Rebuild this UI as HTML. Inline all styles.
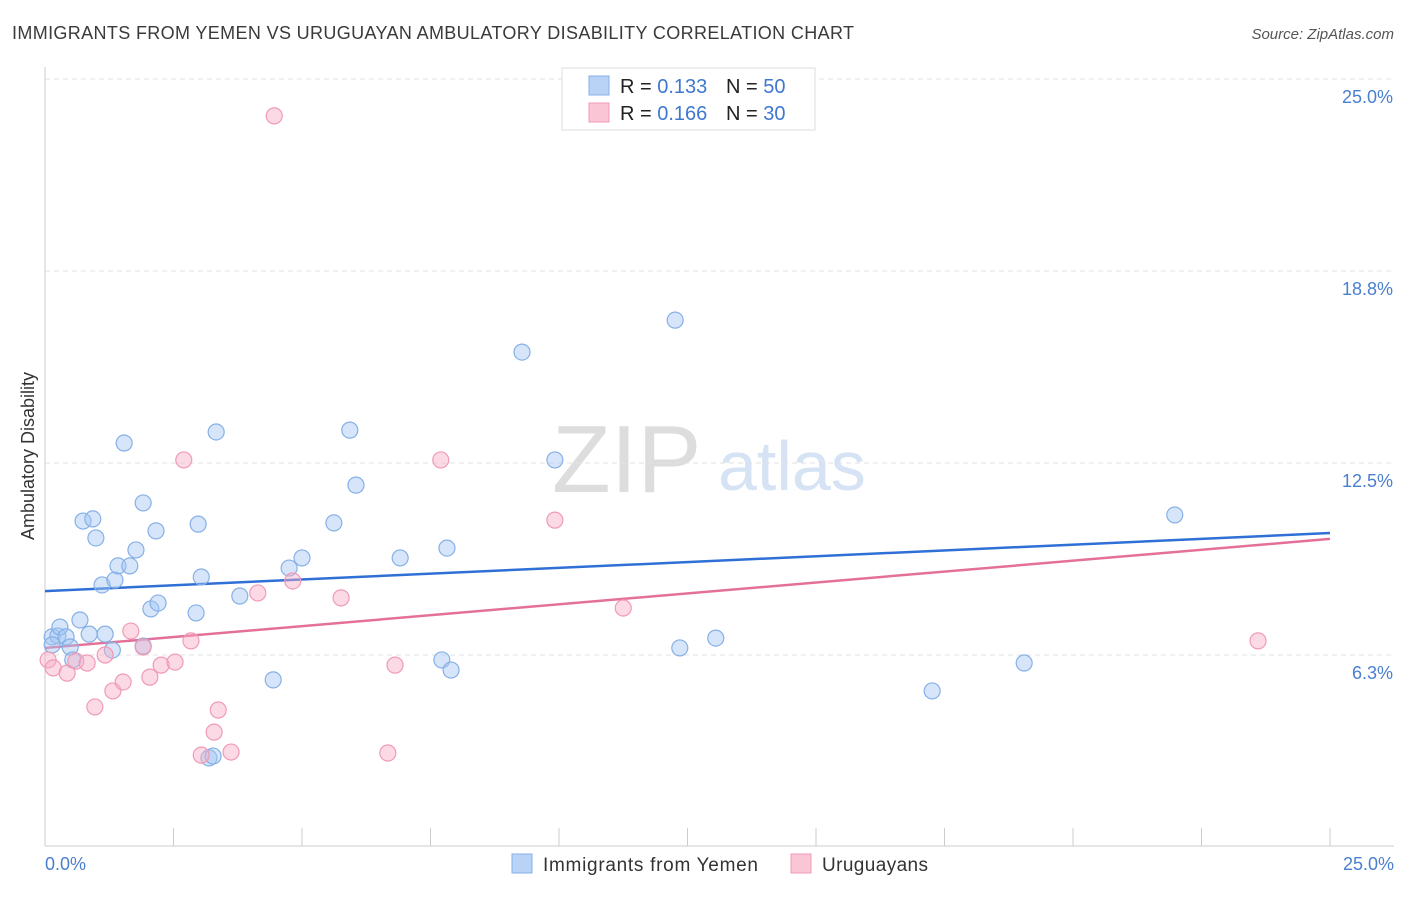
<!DOCTYPE html>
<html><head><meta charset="utf-8"><style>
body{margin:0;background:#fff;font-family:"Liberation Sans",sans-serif;}
svg text{font-family:"Liberation Sans",sans-serif;}
</style></head><body>
<svg id="chart" width="1406" height="892" xmlns="http://www.w3.org/2000/svg">
<text x="12" y="39" font-size="18" fill="#3a3a3a" textLength="842" lengthAdjust="spacing">IMMIGRANTS FROM YEMEN VS URUGUAYAN AMBULATORY DISABILITY CORRELATION CHART</text>
<text x="1394" y="39" font-size="15" fill="#555" text-anchor="end" font-style="italic">Source: ZipAtlas.com</text>
<g>
<text x="552" y="492" font-size="96" fill="#ddd" font-family="Liberation Serif,serif">ZIP</text>
<text x="718" y="490" font-size="70" fill="#d5e3f5">atlas</text>
</g>
<g id="grid"></g>
<g id="axes"></g>
<g id="lines"></g>
<g id="points"></g>
<text transform="translate(34,456) rotate(-90)" font-size="18" fill="#333" text-anchor="middle">Ambulatory Disability</text>
<text x="45" y="870" font-size="18" fill="#4a7fd0">0.0%</text>
<text x="1394" y="870" font-size="18" fill="#4a7fd0" text-anchor="end">25.0%</text>
<g>
<rect x="562" y="68" width="253" height="62" fill="#fff" stroke="#ddd"/>
<rect x="589" y="76" width="20" height="19" fill="#b8d3f5" stroke="#86b0e6"/>
<rect x="589" y="103" width="20" height="19" fill="#fac6d6" stroke="#f09ab6"/>
<text x="620" y="93" font-size="20" fill="#222">R = <tspan fill="#3f78d0">0.133</tspan></text>
<text x="726" y="93" font-size="20" fill="#222">N = <tspan fill="#3f78d0">50</tspan></text>
<text x="620" y="120" font-size="20" fill="#222">R = <tspan fill="#3f78d0">0.166</tspan></text>
<text x="726" y="120" font-size="20" fill="#222">N = <tspan fill="#3f78d0">30</tspan></text>
</g>
<g>
<rect x="512" y="854" width="20" height="19" fill="#b8d3f5" stroke="#86b0e6"/>
<text x="543" y="871" font-size="19" fill="#333" textLength="215" lengthAdjust="spacing">Immigrants from Yemen</text>
<rect x="791" y="854" width="20" height="19" fill="#fac6d6" stroke="#f09ab6"/>
<text x="822" y="871" font-size="19" fill="#333" textLength="106" lengthAdjust="spacing">Uruguayans</text>
</g>
</svg>
<script>
const yTicks=[6.25,12.5,18.75,25];
const yTickLabels=["6.3%","12.5%","18.8%","25.0%"];
const xTicks=[0,2.5,5,7.5,10,12.5,15,17.5,20,22.5,25];
const yemenX=[0.14,0.25,0.29,0.41,0.49,0.54,0.68,0.74,0.86,0.93,0.99,1.11,1.17,1.31,1.36,1.42,1.54,1.65,1.77,1.91,2.06,2.16,2.2,1.91,2.94,2.98,3.04,3.19,3.27,3.33,3.79,4.44,4.75,5.0,5.62,5.93,6.05,6.91,7.72,7.82,7.9,9.28,9.92,12.26,12.35,13.05,17.26,19.05,21.98,0.14];
const yemenY=[6.84,6.87,7.16,6.84,6.51,6.09,7.39,10.61,6.93,10.68,10.06,8.53,6.93,6.41,8.69,9.15,13.15,9.15,9.67,11.2,7.75,10.29,7.94,6.54,7.62,10.51,8.79,2.9,2.96,13.51,8.17,5.44,9.08,9.41,10.55,13.57,11.78,9.41,6.09,9.73,5.76,16.11,12.6,17.15,6.48,6.8,5.08,5.99,10.81,6.58];
const uruX=[0.06,0.16,0.43,0.6,0.82,0.97,1.17,1.32,1.52,1.67,1.91,2.04,2.26,2.53,2.7,2.84,3.04,3.29,3.37,3.62,4.14,4.46,4.82,5.76,6.81,6.67,7.7,9.92,11.25,23.6];
const uruY=[6.09,5.83,5.66,6.05,5.99,4.56,6.25,5.08,5.37,7.03,6.51,5.53,5.92,6.02,12.6,6.71,2.99,3.74,4.46,3.09,8.27,23.8,8.66,8.11,5.92,3.06,12.6,10.64,7.78,6.71];
const yemenTrend=[8.33,10.22];
const uruTrend=[6.48,10.03];
const NS="http://www.w3.org/2000/svg";
const X=v=>45+v*(1285/25);
const Y=v=>847-v*30.72;
function mk(t,a,p){const e=document.createElementNS(NS,t);for(const k in a)e.setAttribute(k,a[k]);document.getElementById(p).appendChild(e);return e;}
yTicks.forEach((t,i)=>{
 const l=mk('line',{x1:45,x2:1394,y1:Y(t),y2:Y(t),stroke:'#e2e2e2','stroke-dasharray':'5,4'},'grid');
 
 
 const tx=mk('text',{x:1393,y:Y(t)+24,'font-size':18,fill:'#4a7fd0','text-anchor':'end'},'grid');
 tx.textContent=yTickLabels[i];
 
 
});
const ya=mk('line',{x1:45,x2:45,y1:67,y2:846,stroke:'#ccc'},'axes');


const xa=mk('line',{x1:45,x2:1394,y1:846,y2:846,stroke:'#ccc'},'axes');


xTicks.forEach(t=>{
 const l=mk('line',{x1:X(t),x2:X(t),y1:828,y2:846,stroke:'#ccc'},'axes');
 
 
});
function pts(xs,ys,fill,stroke,name){xs.forEach((x,i)=>{
 const c=mk('circle',{cx:X(x),cy:Y(ys[i]),r:8,fill:fill,stroke:stroke,'stroke-width':1.2},'points');
 
 
});}
pts(yemenX,yemenY,'rgba(165,198,242,0.45)','#86b0e6','yemen-point');
pts(uruX,uruY,'rgba(247,172,198,0.45)','#f09ab6','uruguayan-point');
const bl=mk('line',{x1:X(0),x2:X(25),y1:Y(yemenTrend[0]),y2:Y(yemenTrend[1]),stroke:'#2f6fd6','stroke-width':2.5},'lines');


const pl=mk('line',{x1:X(0),x2:X(25),y1:Y(uruTrend[0]),y2:Y(uruTrend[1]),stroke:'#e4709a','stroke-width':2.5},'lines');


</script>
</body></html>
